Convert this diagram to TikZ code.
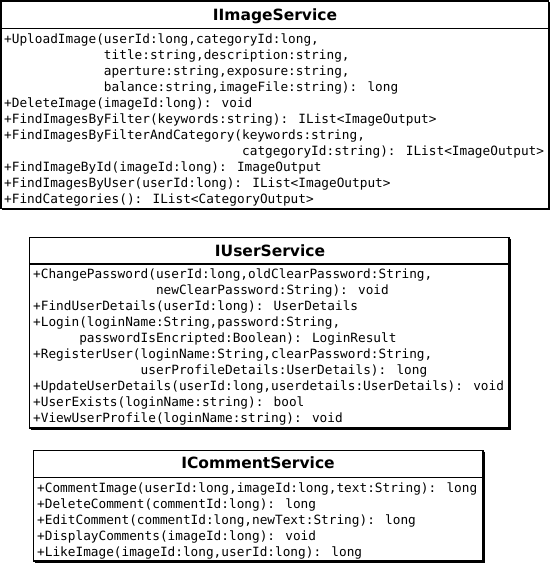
\documentclass[tikz,border=0pt]{standalone}
\usepackage{fontspec}
\newfontfamily\monof{DejaVu Sans Mono}
\newfontfamily\titlef{DejaVu Sans}
\newcommand{\monosize}{\fontsize{12.75}{16}\selectfont}
\tikzset{
  umlbox/.style={draw=black, line width=1.6pt, fill=white},
  shadowline/.style={draw=black, line width=1.4pt},
  divider/.style={draw=black, line width=1.4pt},
  umltitle/.style={anchor=base, inner sep=0pt, font=\titlef\bfseries\fontsize{15.5}{18}\selectfont},
  umlbody/.style={anchor=north west, inner sep=0pt, align=left, font=\monof\monosize},
}
\newlength{\chw}
\newcommand{\ind}[1]{\hspace*{#1\chw}}
\newcommand{\topstrut}{\rule{0pt}{12pt}}
\begin{document}
\settowidth{\chw}{\monof\monosize 0}
\begin{tikzpicture}[x=1pt,y=-1pt]
\useasboundingbox (0,0) rectangle (552,564);
% ---------- IImageService
\path[umlbox] (1,1) rectangle (548.5,208.5);
\draw[shadowline] (549.5,2) -- (549.5,209.5) -- (2,209.5);
\draw[divider] (1,28.3) -- (548.5,28.3);
\node[umltitle] (t1) at (275,20.5) {IImageService};
\node[umlbody] (b1) at (4,31.5) {%
\topstrut+UploadImage(userId:long,categoryId:long,\\
\ind{13}title:string,description:string,\\
\ind{13}aperture:string,exposure:string,\\
\ind{13}balance:string,imageFile:string): long\\
+DeleteImage(imageId:long): void\\
+FindImagesByFilter(keywords:string): IList<ImageOutput>\\
+FindImagesByFilterAndCategory(keywords:string,\\
\ind{31}catgegoryId:string): IList<ImageOutput>\\
+FindImageById(imageId:long): ImageOutput\\
+FindImagesByUser(userId:long): IList<ImageOutput>\\
+FindCategories(): IList<CategoryOutput>};
% ---------- IUserService
\path[umlbox] (29.5,237.5) rectangle (509,428);
\draw[shadowline] (510,238.5) -- (510,429) -- (30.5,429);
\draw[divider] (29.5,264) -- (509,264);
\node[umltitle] (t2) at (270,256.7) {IUserService};
\node[umlbody] (b2) at (33,266.5) {%
\topstrut+ChangePassword(userId:long,oldClearPassword:String,\\
\ind{16}newClearPassword:String): void\\
+FindUserDetails(userId:long): UserDetails\\
+Login(loginName:String,password:String,\\
\ind{6}passwordIsEncripted:Boolean): LoginResult\\
+RegisterUser(loginName:String,clearPassword:String,\\
\ind{14}userProfileDetails:UserDetails): long\\
+UpdateUserDetails(userId:long,userdetails:UserDetails): void\\
+UserExists(loginName:string): bool\\
+ViewUserProfile(loginName:string): void};
% ---------- ICommentService
\path[umlbox] (33.5,450.5) rectangle (483,561);
\draw[shadowline] (484,451.5) -- (484,562) -- (34.5,562);
\draw[divider] (33.5,477.3) -- (483,477.3);
\node[umltitle] (t3) at (258,468.5) {ICommentService};
\node[umlbody] (b3) at (37,479.8) {%
\topstrut+CommentImage(userId:long,imageId:long,text:String): long\\
+DeleteComment(commentId:long): long\\
+EditComment(commentId:long,newText:String): long\\
+DisplayComments(imageId:long): void\\
+LikeImage(imageId:long,userId:long): long};
\end{tikzpicture}
\end{document}
